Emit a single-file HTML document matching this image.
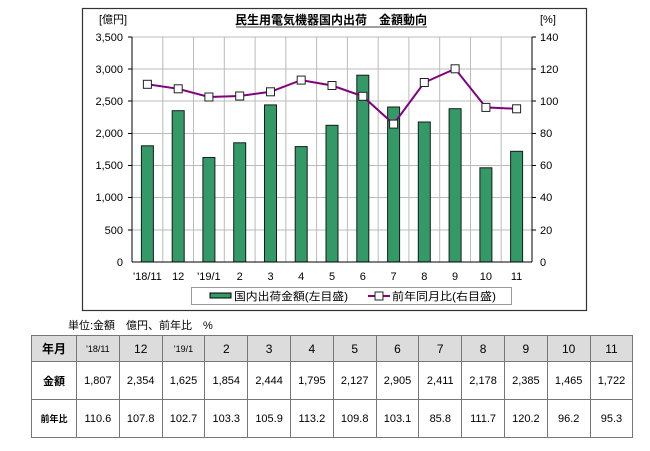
<!DOCTYPE html>
<html><head><meta charset="utf-8"><style>
body{margin:0;background:#fff;width:650px;height:451px;overflow:hidden;font-family:"Liberation Sans","Noto Sans CJK JP",sans-serif;}
table{position:absolute;left:31px;top:335px;border-collapse:collapse;table-layout:fixed;}
td{border:1px solid #777;text-align:center;font-size:11px;padding:0;color:#000;}
tr.h td{background:#dcdcdc;height:25px;font-size:12px;}
tr.a td{height:37px;}
tr.b td{height:37px;}
</style></head><body>
<svg width="650" height="330" style="position:absolute;left:0;top:0" font-family="Liberation Sans, Noto Sans CJK JP, sans-serif">
<rect x="82.5" y="8.5" width="504" height="302" fill="#fff" stroke="#333" stroke-width="1.2"/>
<text x="331" y="24" font-size="12" font-weight="bold" text-anchor="middle">民生用電気機器国内出荷　金額動向</text>
<line x1="236" y1="27" x2="427" y2="27" stroke="#000" stroke-width="0.8"/>
<text x="99" y="23" font-size="11">[億円]</text>
<text x="540" y="23" font-size="11">[%]</text>
<g stroke="#bbb" stroke-width="1">
<line x1="132" y1="37" x2="532" y2="37"/><line x1="132" y1="69" x2="532" y2="69"/><line x1="132" y1="101" x2="532" y2="101"/><line x1="132" y1="133.5" x2="532" y2="133.5"/><line x1="132" y1="165.5" x2="532" y2="165.5"/><line x1="132" y1="197.5" x2="532" y2="197.5"/><line x1="132" y1="230" x2="532" y2="230"/>
<line x1="162.8" y1="37" x2="162.8" y2="262"/><line x1="193.5" y1="37" x2="193.5" y2="262"/><line x1="224.3" y1="37" x2="224.3" y2="262"/><line x1="255.1" y1="37" x2="255.1" y2="262"/><line x1="285.8" y1="37" x2="285.8" y2="262"/><line x1="316.6" y1="37" x2="316.6" y2="262"/><line x1="347.4" y1="37" x2="347.4" y2="262"/><line x1="378.2" y1="37" x2="378.2" y2="262"/><line x1="408.9" y1="37" x2="408.9" y2="262"/><line x1="439.7" y1="37" x2="439.7" y2="262"/><line x1="470.5" y1="37" x2="470.5" y2="262"/><line x1="501.2" y1="37" x2="501.2" y2="262"/><line x1="532" y1="37" x2="532" y2="262"/>
</g>
<g fill="#339966" stroke="#1a1a1a" stroke-width="1">
<rect x="141.4" y="145.8" width="12" height="116.2"/>
<rect x="172.2" y="110.7" width="12" height="151.3"/>
<rect x="202.9" y="157.5" width="12" height="104.5"/>
<rect x="233.7" y="142.8" width="12" height="119.2"/>
<rect x="264.5" y="104.9" width="12" height="157.1"/>
<rect x="295.2" y="146.6" width="12" height="115.4"/>
<rect x="326" y="125.3" width="12" height="136.7"/>
<rect x="356.8" y="75.2" width="12" height="186.8"/>
<rect x="387.6" y="107" width="12" height="155"/>
<rect x="418.3" y="122" width="12" height="140"/>
<rect x="449.1" y="108.7" width="12" height="153.3"/>
<rect x="479.9" y="167.8" width="12" height="94.2"/>
<rect x="510.6" y="151.3" width="12" height="110.7"/>
</g>
<line x1="132" y1="37" x2="132" y2="262" stroke="#000"/>
<line x1="532" y1="37" x2="532" y2="262" stroke="#000"/>
<line x1="132" y1="262" x2="532" y2="262" stroke="#000"/>
<g stroke="#000"><line x1="128" y1="37" x2="132" y2="37"/><line x1="128" y1="69" x2="132" y2="69"/><line x1="128" y1="101" x2="132" y2="101"/><line x1="128" y1="133.5" x2="132" y2="133.5"/><line x1="128" y1="165.5" x2="132" y2="165.5"/><line x1="128" y1="197.5" x2="132" y2="197.5"/><line x1="128" y1="230" x2="132" y2="230"/>
<line x1="532" y1="37" x2="536" y2="37"/><line x1="532" y1="69" x2="536" y2="69"/><line x1="532" y1="101" x2="536" y2="101"/><line x1="532" y1="133.5" x2="536" y2="133.5"/><line x1="532" y1="165.5" x2="536" y2="165.5"/><line x1="532" y1="197.5" x2="536" y2="197.5"/><line x1="532" y1="230" x2="536" y2="230"/></g>
<g font-size="11" text-anchor="end">
<text x="123" y="41">3,500</text><text x="123" y="73">3,000</text><text x="123" y="105">2,500</text><text x="123" y="137">2,000</text><text x="123" y="169">1,500</text><text x="123" y="201">1,000</text><text x="123" y="234">500</text><text x="123" y="266">0</text></g>
<g font-size="11"><text x="540" y="41">140</text><text x="540" y="73">120</text><text x="540" y="105">100</text><text x="540" y="137">80</text><text x="540" y="169">60</text><text x="540" y="201">40</text><text x="540" y="234">20</text><text x="540" y="266">0</text></g>
<g font-size="11" text-anchor="middle">
<text x="147.4" y="280">'18/11</text><text x="178.2" y="280">12</text><text x="208.9" y="280">'19/1</text><text x="239.7" y="280">2</text><text x="270.5" y="280">3</text><text x="301.2" y="280">4</text><text x="332" y="280">5</text><text x="362.8" y="280">6</text><text x="393.6" y="280">7</text><text x="424.3" y="280">8</text><text x="455.1" y="280">9</text><text x="485.9" y="280">10</text><text x="516.6" y="280">11</text></g>
<polyline fill="none" stroke="#800080" stroke-width="2" points="147.4,84.3 178.2,88.8 208.9,97 239.7,96 270.5,91.8 301.2,80.1 332,85.5 362.8,96.3 393.6,124.1 424.3,82.5 455.1,68.8 485.9,107.4 516.6,108.8"/>
<g fill="#fff" stroke="#222" stroke-width="1">
<rect x="143.4" y="80.3" width="8" height="8"/><rect x="174.2" y="84.8" width="8" height="8"/><rect x="204.9" y="93" width="8" height="8"/><rect x="235.7" y="92" width="8" height="8"/><rect x="266.5" y="87.8" width="8" height="8"/><rect x="297.2" y="76.1" width="8" height="8"/><rect x="328" y="81.5" width="8" height="8"/><rect x="358.8" y="92.3" width="8" height="8"/><rect x="389.6" y="120.1" width="8" height="8"/><rect x="420.3" y="78.5" width="8" height="8"/><rect x="451.1" y="64.8" width="8" height="8"/><rect x="481.9" y="103.4" width="8" height="8"/><rect x="512.6" y="104.8" width="8" height="8"/></g>
<rect x="191.5" y="287.5" width="320" height="17" fill="#fff" stroke="#999"/>
<rect x="210" y="293" width="21" height="5" fill="#339966" stroke="#000"/>
<text x="234" y="300" font-size="11" textLength="114" lengthAdjust="spacingAndGlyphs">国内出荷金額(左目盛)</text>
<line x1="368" y1="296" x2="390" y2="296" stroke="#800080" stroke-width="2"/>
<rect x="375" y="292" width="8" height="8" fill="#fff" stroke="#222"/>
<text x="392" y="300" font-size="11" textLength="104" lengthAdjust="spacingAndGlyphs">前年同月比(右目盛)</text>
<text x="68" y="329" font-size="11">単位:金額　億円、前年比　%</text>
</svg>
<table>
<colgroup><col style="width:45px"><col span="13" style="width:42.8px"></colgroup>
<tr class="h"><td><b>年月</b></td><td style="font-size:9px">'18/11</td><td>12</td><td style="font-size:9px">'19/1</td><td>2</td><td>3</td><td>4</td><td>5</td><td>6</td><td>7</td><td>8</td><td>9</td><td>10</td><td>11</td></tr>
<tr class="a"><td><b>金額</b></td><td>1,807</td><td>2,354</td><td>1,625</td><td>1,854</td><td>2,444</td><td>1,795</td><td>2,127</td><td>2,905</td><td>2,411</td><td>2,178</td><td>2,385</td><td>1,465</td><td>1,722</td></tr>
<tr class="b"><td style="font-size:9px"><b>前年比</b></td><td>110.6</td><td>107.8</td><td>102.7</td><td>103.3</td><td>105.9</td><td>113.2</td><td>109.8</td><td>103.1</td><td>85.8</td><td>111.7</td><td>120.2</td><td>96.2</td><td>95.3</td></tr>
</table>
</body></html>
